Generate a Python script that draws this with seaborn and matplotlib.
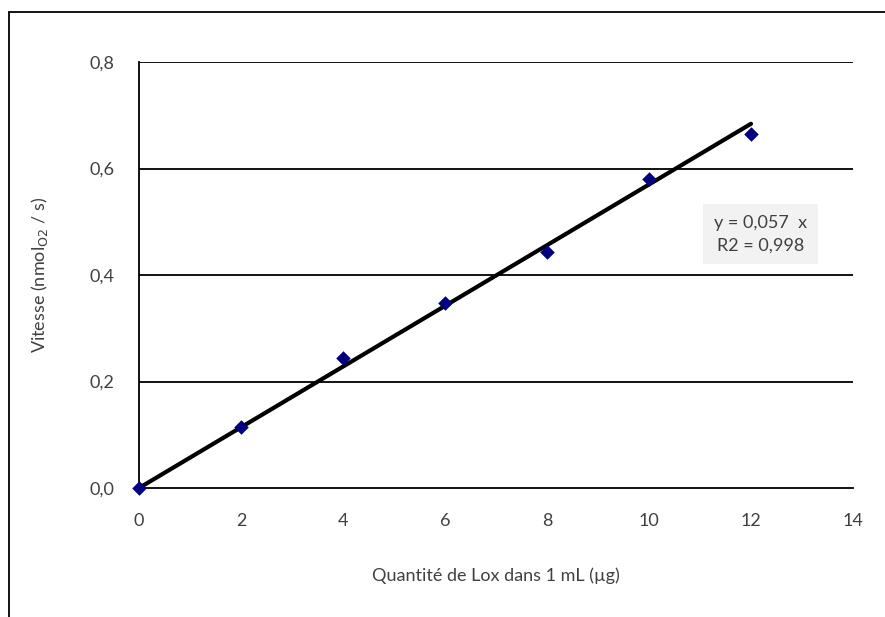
import numpy as np
import pandas as pd
import matplotlib
matplotlib.use("Agg")
import matplotlib.pyplot as plt
from matplotlib.patches import Rectangle
import seaborn as sns

# Measured reaction rate vs. amount of lipoxygenase
quantite_lox = [0, 2, 4, 6, 8, 10, 12]
vitesse = [0.0, 0.115, 0.244, 0.347, 0.444, 0.580, 0.665]
pente = 0.057
r2 = 0.998
x_ticks = [0, 2, 4, 6, 8, 10, 12, 14]
y_ticks = [0.0, 0.2, 0.4, 0.6, 0.8]

sns.set_style("white")
plt.rcParams["font.family"] = ["Lato", "DejaVu Sans"]
text_color = "#404040"

fig = plt.figure(figsize=(8.85, 6.17), dpi=100)
ax = fig.add_axes([139 / 885, 1 - 488 / 617, (853 - 139) / 885, (488 - 62) / 617])

df = pd.DataFrame({"x": quantite_lox, "y": vitesse})
fit = pd.DataFrame({"x": [quantite_lox[0], quantite_lox[-1]]})
fit["y"] = pente * fit["x"]

# horizontal gridlines
for yt in y_ticks[1:]:
    ax.axhline(yt, color="black", lw=1.3, zorder=0)

sns.lineplot(data=fit, x="x", y="y", color="black", lw=3, ax=ax, zorder=2)
sns.scatterplot(data=df, x="x", y="y", marker="D", s=55, color="#000080",
                edgecolor="#000080", linewidth=0, ax=ax, zorder=3)

ax.set_xlim(0, 14)
ax.set_ylim(0, 0.8)
ax.set_xticks(x_ticks)
ax.set_yticks(y_ticks)
ax.set_xticklabels([str(t) for t in x_ticks])
ax.set_yticklabels([f"{t:.1f}".replace(".", ",") for t in y_ticks])
ax.tick_params(axis="both", direction="out", length=6, width=1.3, color="black",
               labelsize=13, labelcolor=text_color, pad=12)
ax.tick_params(axis="x", pad=12)
for c in ax.collections:
    c.set_clip_on(False)

for side in ["top", "right"]:
    ax.spines[side].set_visible(False)
for side in ["left", "bottom"]:
    ax.spines[side].set_color("black")
    ax.spines[side].set_linewidth(1.3)

ax.set_xlabel("Quantité de Lox dans 1 mL (µg)", fontsize=13, color=text_color, labelpad=28)
ax.set_ylabel("Vitesse (nmol$_{\\mathrm{O2}}$ / s)", fontsize=13, color=text_color, labelpad=28)

ax.text(12.18, 0.477, f"y = {pente:.3f}  x\nR2 = {r2:.3f}".replace(".", ","),
        ha="center", va="center", fontsize=13, color=text_color, linespacing=1.5,
        bbox=dict(boxstyle="square,pad=0.6", facecolor="#f2f2f2", edgecolor="none"))

# outer chart frame
fig.patches.append(Rectangle((9 / 885, -0.2), 2, 1 - 12 / 617 + 0.2,
                             transform=fig.transFigure, fill=False,
                             edgecolor="black", lw=1.3, zorder=0))

fig.savefig("out.png", dpi=100, facecolor="white")
